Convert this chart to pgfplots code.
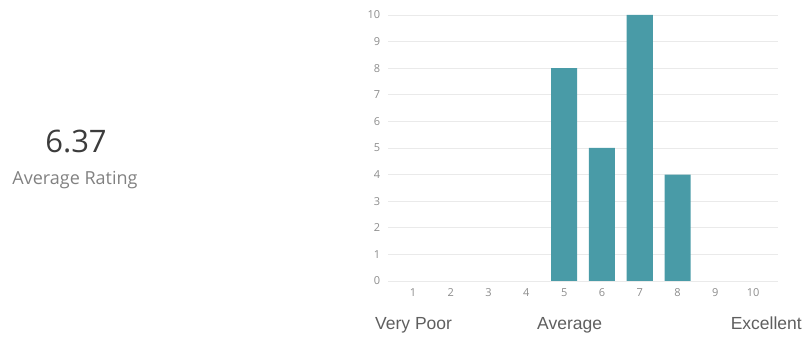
\documentclass[border=0pt]{standalone}
\usepackage{pgfplots}
\pgfplotsset{compat=1.18}
\usepackage{fontspec}
\setmainfont{Liberation Sans}
\newfontfamily\uifont{Open Sans}
\definecolor{ratingbar}{RGB}{73,155,167}
\definecolor{gridgray}{RGB}{234,234,234}
\definecolor{ticktext}{RGB}{140,140,140}
\definecolor{scaletext}{RGB}{95,95,95}
\definecolor{bigtext}{RGB}{60,60,60}

\begin{document}
\begin{tikzpicture}[x=1pt,y=1pt]
  \path[use as bounding box] (0,0) rectangle (806,337);

  % summary figure on the left
  \node[font=\uifont\fontsize{31}{31}\selectfont, text=bigtext, anchor=base, inner sep=0]
    at (76,184) {6.37};
  \node[font=\uifont\fontsize{18}{18}\selectfont, text=ticktext!110, anchor=base, inner sep=0]
    at (75,152) {Average Rating};

  \begin{axis}[
    at={(388.4pt,56pt)}, anchor=south west,
    scale only axis,
    width=389.3pt, height=266pt,
    xmin=0.35, xmax=10.65,
    ymin=0, ymax=10,
    xtick={1,...,10},
    ytick={0,...,10},
    ymajorgrids,
    grid style={gridgray, line width=0.8pt},
    axis line style={draw=none},
    tick style={draw=none},
    /pgf/number format/assume math mode=true,
    ticklabel style={font=\uifont\fontsize{11}{11}\selectfont, text=ticktext, inner sep=0pt},
    yticklabel style={anchor=east, xshift=-8pt},
    xticklabel style={anchor=center, yshift=-11.5pt},
    clip=false,
  ]
    % ratings 1-4, 9 and 10 received no votes
    \addplot[ybar, bar width=26pt, fill=ratingbar, draw=none, bar shift=0pt]
      coordinates {(5,8) (6,5) (7,10) (8,4)};
  \end{axis}

  % scale descriptions under the axis
  \begin{scope}[every node/.style={font=\fontsize{17.5}{17.5}\selectfont, text=scaletext, inner sep=0}]
    \node[anchor=base west] at (375,7) {Very Poor};
    \node[anchor=base west] at (537,7) {Average};
    \node[anchor=base east] at (802,7) {Excellent};
  \end{scope}
\end{tikzpicture}
\end{document}
